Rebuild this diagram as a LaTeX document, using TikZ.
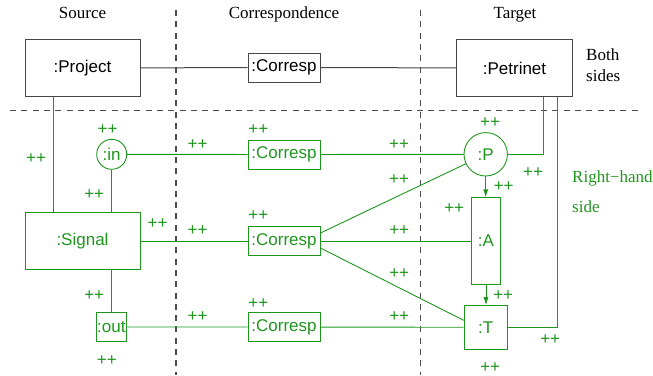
\documentclass[tikz,border=0pt]{standalone}
\usepackage{fontspec}
\setmainfont{Liberation Serif}
\setsansfont{Liberation Sans}
\usetikzlibrary{arrows.meta}
\definecolor{rulegreen}{RGB}{30,150,30}
\definecolor{boxgray}{RGB}{70,70,70}
\begin{document}
\begin{tikzpicture}[x=1pt,y=-1pt,
  headtext/.style={font=\fontsize{17}{20}\selectfont,inner sep=0pt},
  sepline/.style={draw=black!70,line width=1.2pt,dash pattern=on 6pt off 5.3pt},
  box/.style 2 args={rectangle,minimum width=#1,minimum height=#2},
  oldobj/.style={draw=boxgray,line width=1pt,inner sep=0pt,font=\sffamily\fontsize{17}{20}\selectfont},
  newobj/.style={draw=rulegreen,text=rulegreen,line width=0.9pt,inner sep=0pt,font=\sffamily\fontsize{17}{20}\selectfont},
  oldline/.style={draw=boxgray,line width=1pt},
  newline/.style={draw=rulegreen,line width=0.9pt},
  tip/.style={-{Latex[length=8pt,width=5pt]}},
  plus/.style={text=rulegreen,inner sep=0pt,font=\sffamily\fontsize{17}{20}\selectfont}]
\useasboundingbox (0,0) rectangle (653,375);
\draw[sepline] (10,110.7) -- (640,110.7);
\draw[sepline] (176,10) -- (176,375);
\draw[sepline] (420.7,10) -- (420.7,375);
\node[headtext,anchor=base] (src) at (82.5,18.3) {Source};
\node[headtext,anchor=base] (cor) at (284,18.3) {Correspondence};
\node[headtext,anchor=base] (tgt) at (515,18.3) {Target};
\node[headtext,align=left,anchor=west,font=\fontsize{17}{20.7}\selectfont] (both) at (586,65.5) {Both\\sides};
\node[headtext,align=left,anchor=west,text=rulegreen,font=\fontsize{17}{29.6}\selectfont] (rhs) at (572,191.7) {Right−hand\\side};
\node[oldobj,box={115pt}{57pt}] (project) at (82.5,68) {:Project};
\node[oldobj,box={72pt}{29pt}] (c0) at (284,67.5) {:Corresp};
\node[oldobj,box={115.6pt}{57pt}] (petrinet) at (514.5,68) {:Petrinet};
\node[newobj,circle,minimum size=30pt] (in) at (111.7,154.3) {:in};
\node[newobj,box={72pt}{29pt}] (c1) at (284,154.5) {:Corresp};
\node[newobj,circle,minimum size=43.4pt] (P) at (485.7,154.3) {:P};
\node[newobj,box={115pt}{57pt}] (signal) at (82.5,241) {:Signal};
\node[newobj,box={72pt}{29pt}] (c2) at (284,241) {:Corresp};
\node[newobj,box={28.6pt}{86.3pt}] (A) at (486,241) {:A};
\node[newobj,box={29.3pt}{29pt}] (out) at (111.3,327) {:out};
\node[newobj,box={72pt}{29pt}] (c3) at (284,327) {:Corresp};
\node[newobj,box={43.3pt}{43.3pt}] (T) at (485.7,327.3) {:T};
\draw[oldline] (project) -- (c0) -- (petrinet);
\draw[newline] ([xshift=-29.2pt]project.south) -- ([xshift=-29.2pt]signal.north);
\draw[newline] (in) -- (in |- signal.north);
\draw[newline] (in) -- (c1) -- (P);
\draw[newline] (P) -| ([xshift=28.8pt]petrinet.south);
\draw[newline] (T) -| ([xshift=43.2pt]petrinet.south);
\draw[newline,tip] (P) -- (P |- A.north);
\draw[newline,tip] (A) -- (A |- T.north);
\draw[newline] (signal) -- (c2) -- (A);
\draw[newline] ([yshift=8pt]c2.east) -- (P);
\draw[newline] ([yshift=-7pt]c2.east) -- ([yshift=7pt]T.west);
\draw[newline] (out) -- (out |- signal.south);
\draw[newline] (out) -- (c3) -- (T);
\foreach \x/\y [count=\i] in {107.5/130,36/158.7,197.5/144.8,258.3/129.8,399/144.8,490/122.7,533/173,503.7/187,399/179.8,
  94.2/194.5,157.5/223.5,197.5/230.7,258.3/216,454.2/208.8,399.2/230.7,399.2/273.8,503.2/296,
  94.2/296,197.5/316.8,258.3/303.2,399.2/316.8,550.2/339.2,106.8/360.2,490.2/367.8}
  \node[plus] (pp\i) at (\x,\y) {++};
\end{tikzpicture}
\end{document}
